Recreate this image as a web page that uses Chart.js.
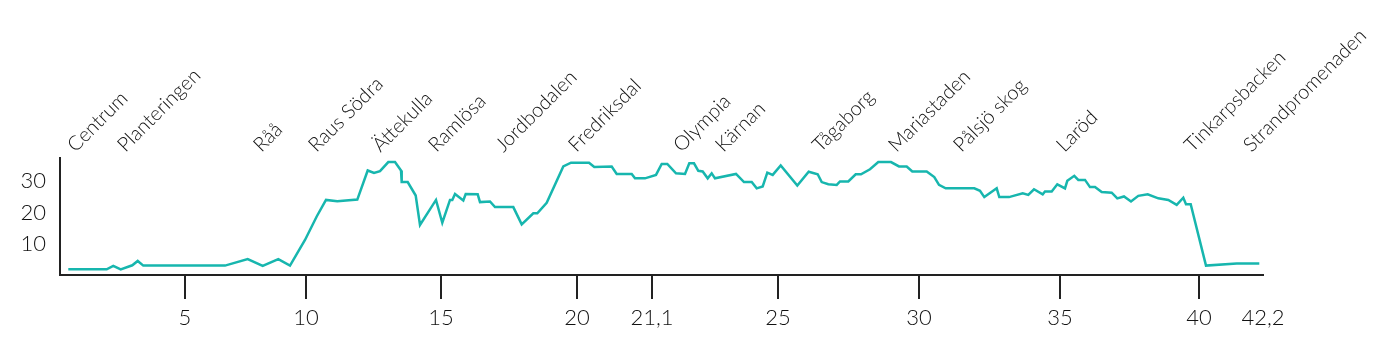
<!DOCTYPE html>
<html lang="sv">
<head>
<meta charset="UTF-8">
<title>Höjdprofil</title>
<script src="https://cdn.jsdelivr.net/npm/chart.js"></script>
<style>
  html, body { margin: 0; padding: 0; background: #fff; }
  .wrap { position: relative; width: 1393px; height: 344px; }
</style>
</head>
<body>
<div class="wrap"><canvas id="profile"></canvas></div>
<script>
// position along the drawn profile (steps) and elevation in metres
const profilePos = [0.83, 4.67, 5.33, 6.07, 7.23, 7.77, 8.33, 16.5, 18.77, 20.27,
  21.83, 23.0, 24.5, 25.67, 26.6, 27.73, 29.73, 30.77, 31.4, 32.0,
  32.83, 33.5, 34.1, 34.17, 34.77, 35.57, 36.0, 37.6, 38.23, 39.0,
  39.23, 39.5, 40.33, 40.57, 41.77, 42.0, 43.0, 43.5, 45.33, 46.17,
  47.33, 47.73, 48.67, 50.33, 51.1, 52.9, 53.43, 55.17, 55.67, 57.17,
  57.5, 58.5, 59.6, 60.17, 60.73, 61.6, 62.5, 62.93, 63.4, 63.83,
  64.27, 64.77, 65.17, 65.5, 67.6, 68.4, 69.17, 69.67, 70.27, 70.73,
  71.27, 72.07, 73.73, 74.87, 75.77, 76.17, 76.83, 77.67, 78.0, 78.83,
  79.57, 80.1, 81.0, 81.83, 83.1, 83.9, 84.67, 85.23, 86.67, 87.43,
  87.9, 88.57, 91.43, 92.0, 92.43, 93.67, 93.93, 94.9, 96.27, 96.83,
  97.4, 98.27, 98.5, 99.17, 99.73, 100.5, 100.73, 101.43, 101.83, 102.5,
  103.0, 103.5, 104.17, 105.17, 105.73, 106.4, 107.1, 107.83, 108.77, 109.83,
  110.83, 111.67, 112.33, 112.6, 113.07, 114.6, 117.67, 119.93];
const elevation = [1.8, 1.8, 2.9, 1.8, 3.1, 4.5, 3.0, 3.0, 5.1, 2.9,
  5.1, 3.0, 11.2, 18.7, 24.0, 23.6, 24.1, 33.4, 32.6, 33.2,
  36.1, 36.1, 33.4, 29.7, 29.7, 25.4, 16.0, 24.0, 16.7, 24.0,
  24.0, 25.9, 23.8, 25.9, 25.8, 23.3, 23.5, 21.7, 21.7, 16.2,
  19.7, 19.7, 23.1, 34.7, 35.9, 35.9, 34.5, 34.7, 32.3, 32.3,
  30.9, 30.9, 32.0, 35.5, 35.5, 32.5, 32.3, 35.7, 35.7, 33.3,
  33.1, 30.9, 32.5, 30.9, 32.3, 29.7, 29.7, 27.7, 28.3, 32.7,
  32.0, 35.0, 28.6, 33.0, 32.2, 29.7, 29.0, 28.8, 29.9, 29.9,
  32.2, 32.2, 33.8, 36.1, 36.1, 34.7, 34.7, 33.1, 33.1, 31.3,
  28.8, 27.7, 27.7, 26.9, 24.9, 27.7, 24.9, 24.9, 26.1, 25.6,
  27.4, 25.8, 26.7, 26.7, 29.0, 27.7, 30.1, 31.7, 30.4, 30.4,
  28.1, 28.1, 26.5, 26.3, 24.5, 25.1, 23.5, 25.3, 25.8, 24.5,
  24.0, 22.4, 24.7, 22.6, 22.6, 3.0, 3.7, 3.7];

// km markers on the x axis
const kmLabels = ['5', '10', '15', '20', '21,1', '25', '30', '35', '40', '42,2'];
const kmAt = [12.5, 24.6, 38.1, 51.7, 59.2, 71.8, 85.9, 100, 113.9, 120.3];

// places along the course
const places = ['Centrum', 'Planteringen', 'Råå', 'Raus Södra', 'Ättekulla', 'Ramlösa',
  'Jordbodalen', 'Fredriksdal', 'Olympia', 'Kärnan', 'Tågaborg', 'Mariastaden',
  'Pålsjö skog', 'Laröd', 'Tinkarpsbacken', 'Strandpromenaden'];
const placeAt = [1.55, 6.55, 20.15, 25.65, 32.05, 37.65, 44.35, 51.65, 62.15, 66.35, 76.05,
  83.65, 90.15, 100.45, 113.25, 119.15];

const elevTicks = [10, 20, 30];

const ink = '#111';
const axisInk = '#222';
const teal = '#17b6ae';
const fontFamily = 'Lato, "Open Sans", sans-serif';

// rotated place names above the plot
const placeLabels = {
  id: 'placeLabels',
  afterDraw(chart) {
    const { ctx, chartArea, scales: { x } } = chart;
    ctx.save();
    ctx.font = '300 20px ' + fontFamily;
    ctx.fillStyle = ink;
    ctx.textAlign = 'left';
    ctx.textBaseline = 'alphabetic';
    places.forEach((name, i) => {
      ctx.save();
      ctx.translate(x.getPixelForValue(placeAt[i]), chartArea.top - 5);
      ctx.rotate(-Math.PI / 4);
      ctx.fillText(name, 0, 0);
      ctx.restore();
    });
    ctx.restore();
  }
};

new Chart(document.getElementById('profile'), {
  type: 'line',
  data: {
    datasets: [{
      data: profilePos.map((p, i) => ({ x: p, y: elevation[i] })),
      borderColor: teal,
      borderWidth: 2.5,
      pointRadius: 0,
      tension: 0,
      fill: false
    }]
  },
  options: {
    responsive: true,
    maintainAspectRatio: false,
    animation: false,
    layout: { padding: { top: 158, right: 130, left: 0, bottom: 0 } },
    plugins: { legend: { display: false }, tooltip: { enabled: false } },
    scales: {
      x: {
        type: 'linear',
        min: 0,
        max: 120.3,
        afterBuildTicks: s => { s.ticks = kmAt.map(v => ({ value: v })); },
        afterFit: s => { s.height = 69; },
        border: { color: axisInk, width: 2 },
        grid: {
          drawOnChartArea: false,
          tickLength: 24,
          lineWidth: 2,
          color: c => (c.index === kmAt.length - 1 ? 'rgba(0,0,0,0)' : axisInk)
        },
        ticks: {
          autoSkip: false,
          maxRotation: 0,
          padding: 6,
          color: ink,
          font: { family: fontFamily, size: 22, weight: 300 },
          callback: (v, i) => kmLabels[i]
        }
      },
      y: {
        min: 0,
        max: 37.4,
        afterBuildTicks: s => { s.ticks = elevTicks.map(v => ({ value: v })); },
        afterFit: s => { s.width = 60; },
        border: { color: axisInk, width: 2 },
        grid: { drawOnChartArea: false, drawTicks: false },
        ticks: {
          padding: 14,
          color: ink,
          font: { family: fontFamily, size: 22, weight: 300 }
        }
      }
    }
  },
  plugins: [placeLabels]
});
</script>
</body>
</html>
